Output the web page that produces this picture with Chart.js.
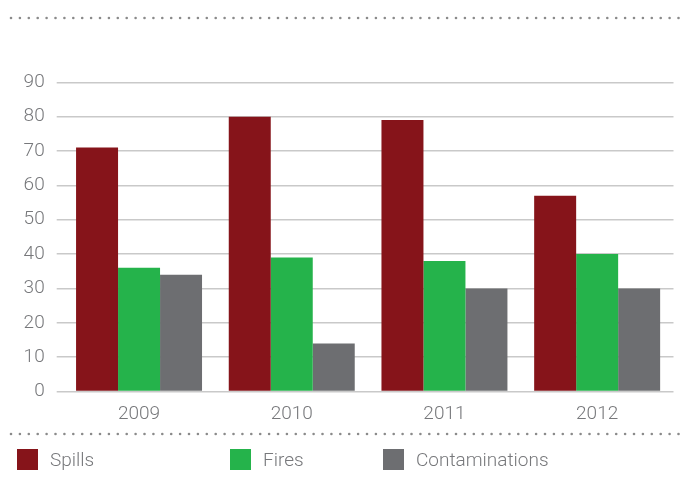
<!DOCTYPE html>
<html>
<head>
<meta charset="utf-8">
<script src="https://cdn.jsdelivr.net/npm/chart.js@4.4.1/dist/chart.umd.min.js"></script>
<style>
  html, body { margin: 0; padding: 0; background: #fff; }
  #wrap { position: relative; width: 684px; height: 482px; }
  #legend { position: absolute; left: 0; top: 0; width: 684px; height: 482px; pointer-events: none; }
  .item { position: absolute; top: 449px; height: 21px; display: flex; align-items: center;
          font-family: Roboto, "Liberation Sans", sans-serif; font-weight: 300; font-size: 19px; color: #77787b; }
  .sw { width: 21px; height: 21px; margin-right: 12px; }
</style>
</head>
<body>
<div id="wrap">
  <canvas id="c" width="684" height="482"></canvas>
  <div id="legend"></div>
</div>
<script>
const categories = ["2009", "2010", "2011", "2012"];
const seriesNames = ["Spills", "Fires", "Contaminations"];
const spills = [71, 80, 79, 57];
const fires = [36, 39, 38, 40];
const contaminations = [34, 14, 30, 30];
const yTicks = [0, 10, 20, 30, 40, 50, 60, 70, 80, 90];
const colors = ["#86141a", "#25b34b", "#6d6e71"];
const legendX = [17, 230, 383];

const dotsPlugin = {
  id: 'dots',
  afterDraw(chart) {
    const ctx = chart.ctx;
    ctx.save();
    ctx.fillStyle = '#8a8a8a';
    [18, 434].forEach(y => {
      for (let x = 11; x < 684; x += 8.9) {
        ctx.beginPath();
        ctx.arc(x, y, 1.3, 0, Math.PI * 2);
        ctx.fill();
      }
    });
    ctx.restore();
  }
};

const font = { family: 'Roboto, "Liberation Sans", sans-serif', size: 19, weight: 300 };

const chart = new Chart(document.getElementById('c'), {
  type: 'bar',
  data: {
    labels: categories,
    datasets: [
      { label: seriesNames[0], data: spills, backgroundColor: colors[0] },
      { label: seriesNames[1], data: fires, backgroundColor: colors[1] },
      { label: seriesNames[2], data: contaminations, backgroundColor: colors[2] }
    ]
  },
  options: {
    responsive: false,
    animation: false,
    devicePixelRatio: 1,
    layout: { padding: { left: 0, right: 10.5, top: 82.3, bottom: 0 } },
    datasets: { bar: { categoryPercentage: 0.825, barPercentage: 1.0 } },
    plugins: { legend: { display: false }, tooltip: { enabled: false } },
    scales: {
      x: {
        grid: { display: false },
        border: { display: false },
        ticks: { font: font, color: '#77787b', padding: 3 },
        afterFit(s) { s.height = 90.5; }
      },
      y: {
        min: 0, max: 90,
        afterBuildTicks(s) { s.ticks = yTicks.map(v => ({ value: v })); },
        grid: { color: '#c9c9c9', lineWidth: 1.5, tickLength: 6, drawTicks: true },
        border: { display: false },
        ticks: { font: font, color: '#77787b', padding: 12 },
        afterFit(s) { s.width = 62.7; }
      }
    }
  },
  plugins: [dotsPlugin]
});

const leg = document.getElementById('legend');
chart.data.datasets.forEach((ds, i) => {
  const d = document.createElement('div');
  d.className = 'item';
  d.style.left = legendX[i] + 'px';
  const sw = document.createElement('span');
  sw.className = 'sw';
  sw.style.background = ds.backgroundColor;
  const t = document.createElement('span');
  t.textContent = ds.label;
  d.appendChild(sw); d.appendChild(t);
  leg.appendChild(d);
});
</script>
</body>
</html>
